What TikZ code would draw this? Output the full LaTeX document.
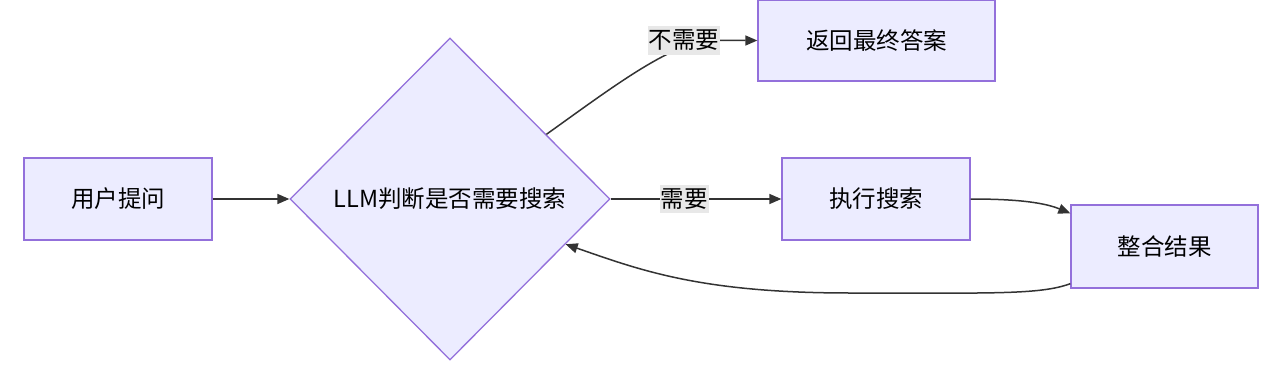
\documentclass[tikz,border=0pt]{standalone}
\usepackage{fontspec}
\setmainfont{Noto Sans CJK SC}
\usetikzlibrary{shapes.geometric,arrows.meta,calc}
\definecolor{nodefill}{HTML}{ECECFF}
\definecolor{nodeline}{HTML}{9370DB}
\definecolor{edgecol}{HTML}{333333}
\definecolor{lblbg}{HTML}{E8E8E8}
\begin{document}
\begin{tikzpicture}[x=1pt,y=1pt,
  every node/.style={font=\fontsize{23.5}{27}\selectfont},
  box/.style={draw=nodeline,fill=nodefill,line width=1.3pt,rectangle,inner sep=0pt},
  dia/.style={draw=nodeline,fill=nodefill,line width=1.3pt,diamond,aspect=1,inner sep=0pt,minimum width=320pt,minimum height=322pt},
  arr/.style={draw=edgecol,line width=1.5pt,-{Triangle[length=12pt,width=10pt]}},
  lbl/.style={fill=lblbg,inner xsep=1pt,inner ysep=4pt,text=black}]
\useasboundingbox (0,0) rectangle (1280,365);
\fill[white] (0,0) rectangle (1280,365);
\node[box,minimum width=188pt,minimum height=82pt] (u) at (118,166) {用户提问};
\node[dia] (d) at (450,166) {LLM判断是否需要搜索};
\node[box,minimum width=237pt,minimum height=81pt] (ret) at (876.5,324.5) {返回最终答案};
\node[box,minimum width=188pt,minimum height=82pt] (ex) at (876,166) {执行搜索};
\node[box,minimum width=187pt,minimum height=83pt] (ie) at (1164.5,118.5) {整合结果};
\coordinate (s1) at ($(d.north)!0.6!(d.east)$);
\coordinate (e4) at ($(ie.north west)+(0,-9)$);
\coordinate (s5) at ($(ie.south west)+(0,5)$);
\coordinate (e5) at ($(d.east)!0.28!(d.south)$);
\draw[arr] (u.east) -- (d.west);
\draw[arr] (s1) .. controls (610,276) and (670,322) .. (710,324.5) -- (ret.west);
\node[lbl] (l1) at (684,324.5) {不需要};
\draw[arr] (d.east) -- (ex.west) node[lbl,pos=0.43] (l2) {需要};
\draw[arr] (ex.east) .. controls (1020,166) and (1045,162) .. (e4);
\draw[arr] (s5) .. controls (1040,70) and (990,72) .. (850,72) .. controls (700,72) and (640,95) .. (e5);
\end{tikzpicture}
\end{document}
